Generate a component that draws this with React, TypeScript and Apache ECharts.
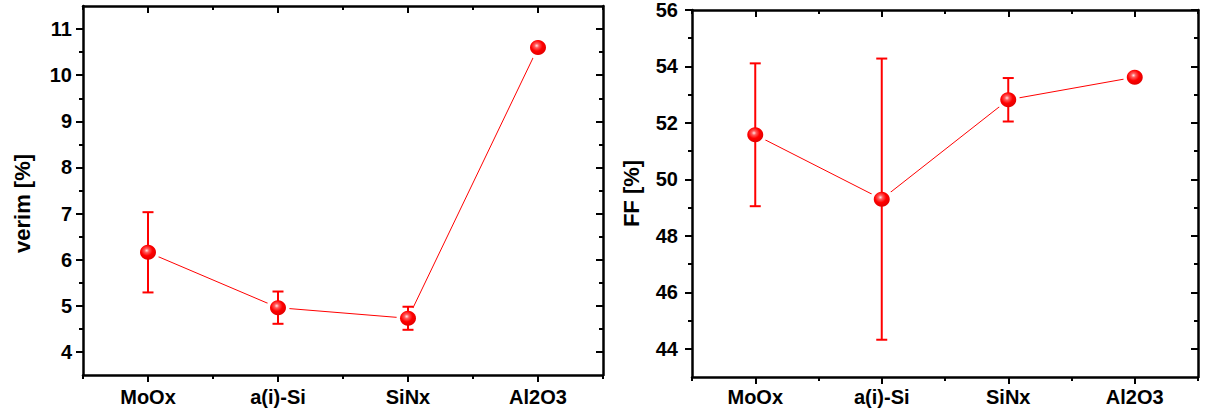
import React, { useEffect, useRef } from "react";
import * as echarts from "echarts";

const categories = ["MoOx", "a(i)-Si", "SiNx", "Al2O3"];
const verim = [6.16, 4.96, 4.73, 10.6];
const verimErr = [0.87, 0.35, 0.25, 0];
const ff = [51.58, 49.3, 52.82, 53.62];
const ffErr = [2.53, 4.98, 0.77, 0];

const verimMajorTicks = [4, 5, 6, 7, 8, 9, 10, 11];
const verimMinorTicks = [4.5, 5.5, 6.5, 7.5, 8.5, 9.5, 10.5];
const ffMajorTicks = [44, 46, 48, 50, 52, 54, 56];
const ffMinorTicks = [45, 47, 49, 51, 53, 55];

const FONT = "'Liberation Sans', Arial, Helvetica, sans-serif";
const RED = "#ff0000";
const BLACK = "#000000";

type Panel = {
  grid: { left: number; top: number; width: number; height: number };
  min: number;
  max: number;
  major: number[];
  minor: number[];
  name: string;
  nameGap: number;
  namePadding: number[];
  yLabelMargin: number;
  xLabelMargin: number;
  values: number[];
  errors: number[];
};

const panels: Panel[] = [
  {
    grid: { left: 83, top: 6, width: 520, height: 369 },
    min: 3.5,
    max: 11.5,
    major: verimMajorTicks,
    minor: verimMinorTicks,
    name: "verim [%]",
    nameGap: 50,
    namePadding: [0, 26, 0, 0],
    yLabelMargin: 11,
    xLabelMargin: 12,
    values: verim,
    errors: verimErr,
  },
  {
    grid: { left: 692, top: 9, width: 506, height: 368 },
    min: 43,
    max: 56,
    major: ffMajorTicks,
    minor: ffMinorTicks,
    name: "FF [%]",
    nameGap: 50,
    namePadding: [0, 0, 0, 0],
    yLabelMargin: 14,
    xLabelMargin: 10,
    values: ff,
    errors: ffErr,
  },
];

function buildOption() {
  const grids: any[] = [];
  const xAxes: any[] = [];
  const yAxes: any[] = [];
  const series: any[] = [];

  panels.forEach((p, gi) => {
    grids.push({ ...p.grid, containLabel: false });
    const xBase = xAxes.length;
    const yBase = yAxes.length;
    const lineStyle = { color: BLACK, width: 2.5 };
    const tickStyle = { color: BLACK, width: 2 };
    const labelStyle = {
      color: BLACK,
      fontFamily: FONT,
      fontWeight: "bold",
      fontSize: 20,
    };

    xAxes.push({
      type: "category",
      gridIndex: gi,
      position: "bottom",
      data: categories,
      boundaryGap: true,
      axisLine: { show: true, lineStyle },
      axisTick: { show: true, alignWithLabel: true, interval: 0, length: 7, lineStyle: tickStyle },
      axisLabel: { ...labelStyle, interval: 0, margin: p.xLabelMargin },
      splitLine: { show: false },
    });
    xAxes.push({
      type: "category",
      gridIndex: gi,
      position: "bottom",
      data: categories,
      boundaryGap: true,
      axisLine: { show: false },
      axisTick: { show: true, alignWithLabel: false, interval: 0, length: 4, lineStyle: tickStyle },
      axisLabel: { show: false },
      splitLine: { show: false },
    });
    xAxes.push({
      type: "category",
      gridIndex: gi,
      position: "top",
      data: categories,
      boundaryGap: true,
      axisLine: { show: true, lineStyle },
      axisTick: { show: true, inside: true, alignWithLabel: true, interval: 0, length: 7, lineStyle: tickStyle },
      axisLabel: { show: false },
      splitLine: { show: false },
    });
    xAxes.push({
      type: "category",
      gridIndex: gi,
      position: "top",
      data: categories,
      boundaryGap: true,
      axisLine: { show: false },
      axisTick: { show: true, inside: true, alignWithLabel: false, interval: 0, length: 4, lineStyle: tickStyle },
      axisLabel: { show: false },
      splitLine: { show: false },
    });

    yAxes.push({
      type: "value",
      gridIndex: gi,
      position: "left",
      min: p.min,
      max: p.max,
      name: p.name,
      nameLocation: "middle",
      nameGap: p.nameGap,
      nameTextStyle: {
        color: BLACK,
        fontFamily: FONT,
        fontWeight: "bold",
        fontSize: 22,
        padding: p.namePadding,
      },
      axisLine: { show: true, lineStyle },
      axisTick: { show: true, length: 7, customValues: p.major, lineStyle: tickStyle },
      axisLabel: { ...labelStyle, margin: p.yLabelMargin, customValues: p.major },
      splitLine: { show: false },
    });
    yAxes.push({
      type: "value",
      gridIndex: gi,
      position: "left",
      min: p.min,
      max: p.max,
      axisLine: { show: false },
      axisTick: { show: true, length: 4, customValues: p.minor, lineStyle: tickStyle },
      axisLabel: { show: false },
      splitLine: { show: false },
    });
    yAxes.push({
      type: "value",
      gridIndex: gi,
      position: "right",
      min: p.min,
      max: p.max,
      axisLine: { show: true, lineStyle },
      axisTick: { show: true, inside: true, length: 7, customValues: p.major, lineStyle: tickStyle },
      axisLabel: { show: false },
      splitLine: { show: false },
    });
    yAxes.push({
      type: "value",
      gridIndex: gi,
      position: "right",
      min: p.min,
      max: p.max,
      axisLine: { show: false },
      axisTick: { show: true, inside: true, length: 4, customValues: p.minor, lineStyle: tickStyle },
      axisLabel: { show: false },
      splitLine: { show: false },
    });

    const pts = categories.map((c, i) => [c, p.values[i]]);

    series.push({
      type: "line",
      xAxisIndex: xBase,
      yAxisIndex: yBase,
      data: pts,
      showSymbol: false,
      symbol: "none",
      lineStyle: { color: RED, width: 1 },
      z: 2,
    });
    series.push({
      type: "scatter",
      xAxisIndex: xBase,
      yAxisIndex: yBase,
      data: pts,
      symbol: "circle",
      symbolSize: 23,
      itemStyle: { color: "#ffffff", opacity: 1 },
      z: 3,
      silent: true,
    });
    series.push({
      type: "custom",
      xAxisIndex: xBase,
      yAxisIndex: yBase,
      data: categories.map((c, i) => [i, p.values[i], p.errors[i]]),
      encode: { x: 0, y: 1 },
      z: 4,
      renderItem: (params: any, api: any) => {
        const idx = api.value(0);
        const v = api.value(1);
        const e = api.value(2);
        if (!e) return { type: "group", children: [] };
        const top = api.coord([idx, v + e]);
        const bot = api.coord([idx, v - e]);
        const cap = 5.5;
        const style = { stroke: RED, lineWidth: 2 };
        return {
          type: "group",
          children: [
            { type: "line", shape: { x1: top[0], y1: top[1], x2: bot[0], y2: bot[1] }, style },
            { type: "line", shape: { x1: top[0] - cap, y1: top[1], x2: top[0] + cap, y2: top[1] }, style },
            { type: "line", shape: { x1: bot[0] - cap, y1: bot[1], x2: bot[0] + cap, y2: bot[1] }, style },
          ],
        };
      },
    });
    series.push({
      type: "scatter",
      xAxisIndex: xBase,
      yAxisIndex: yBase,
      data: pts,
      symbol: "circle",
      symbolSize: [16, 15],
      itemStyle: {
        opacity: 1,
        color: new echarts.graphic.RadialGradient(0.42, 0.38, 0.65, [
          { offset: 0, color: "#ffe4e4" },
          { offset: 0.22, color: "#ff5a5a" },
          { offset: 0.55, color: "#ff0000" },
          { offset: 1, color: "#e00000" },
        ]),
      },
      z: 5,
    });
  });

  return {
    animation: false,
    backgroundColor: "#ffffff",
    textStyle: { fontFamily: FONT },
    grid: grids,
    xAxis: xAxes,
    yAxis: yAxes,
    series,
  };
}

export default function App() {
  const ref = useRef<HTMLDivElement>(null);
  useEffect(() => {
    if (!ref.current) return;
    const chart = echarts.init(ref.current, undefined, { renderer: "svg" });
    chart.setOption(buildOption() as any);
    return () => chart.dispose();
  }, []);
  return (
    <div
      ref={ref}
      style={{ position: "fixed", left: 0, top: 0, width: 1214, height: 414, background: "#fff" }}
    />
  );
}
